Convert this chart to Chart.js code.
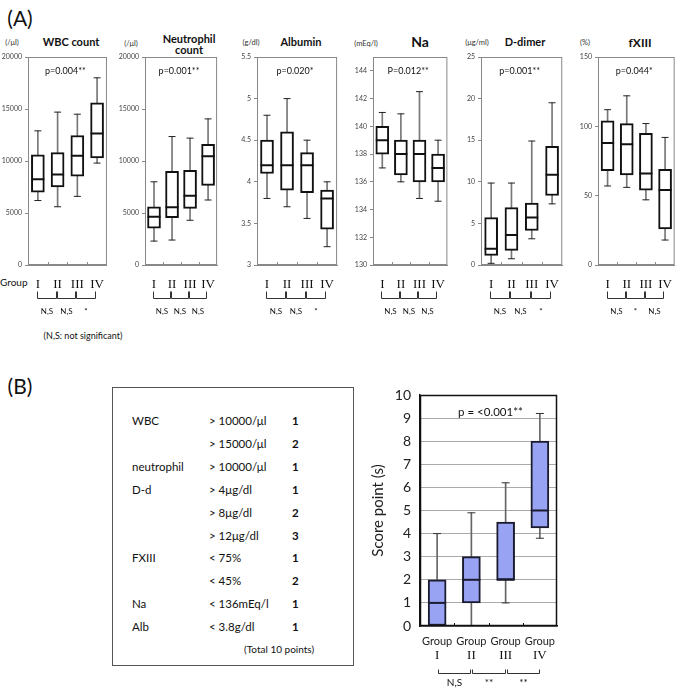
<!DOCTYPE html>
<html>
<head>
<meta charset="utf-8">
<script src="https://cdn.jsdelivr.net/npm/chart.js@4"></script>
<style>
  body { margin: 0; width: 685px; height: 690px; position: relative; background: #fff; overflow: hidden;
         font-family: Lato, "Noto Sans", sans-serif; color: #111; }
  canvas { position: absolute; }
  .t { position: absolute; white-space: nowrap; transform: translate(-50%, -50%); line-height: 1; }
  .l { position: absolute; white-space: nowrap; transform: translateY(-50%); line-height: 1; }
  .b { font-weight: bold; }
  .u { font-size: 7.5px; color: #333; }
  #tbl { position: absolute; left: 112px; top: 387px; width: 240px; height: 277px; border: 1px solid #555; }
</style>
</head>
<body>
<div class="t" style="left:20px;top:17px;font-size:21px">(A)</div>
<div class="t" style="left:20px;top:385px;font-size:21px">(B)</div>

<div class="t b" style="left:71px;top:41px;font-size:11px">WBC count</div>
<div class="t b" style="left:189px;top:38px;font-size:11px">Neutrophil</div>
<div class="t b" style="left:189px;top:49px;font-size:11px">count</div>
<div class="t b" style="left:301px;top:41px;font-size:11px">Albumin</div>
<div class="t b" style="left:420px;top:42px;font-size:14px">Na</div>
<div class="t b" style="left:525px;top:41px;font-size:11px">D-dimer</div>
<div class="t b" style="left:640px;top:43px;font-size:12px">fXIII</div>

<div class="t u" style="left:12px;top:43px">(/μl)</div>
<div class="t u" style="left:131px;top:44px">(/μl)</div>
<div class="t u" style="left:251px;top:43px">(g/dl)</div>
<div class="t u" style="left:366px;top:44px">(mEq/l)</div>
<div class="t u" style="left:477px;top:43px">(μg/ml)</div>
<div class="t u" style="left:585px;top:43px">(%)</div>

<div class="l" style="left:0px;top:282px;font-size:10px">Group</div>
<div class="t" style="left:83px;top:335px;font-size:9px">(N,S: not significant)</div>

<div id="tbl"></div>

<script>
const groups = ['I', 'II', 'III', 'IV'];

// [min, Q1, median, Q3, max] for groups I..IV
const wbcStats = [[6200, 7000, 8250, 10600, 12900], [5600, 7500, 8700, 10800, 14700],
                  [6600, 8550, 10500, 12450, 14500], [9800, 10300, 12650, 15600, 18000]];
const neuStats = [[2300, 3550, 4650, 5600, 8000], [2400, 4550, 5550, 9000, 12350],
                  [4300, 5450, 6650, 9100, 12200], [6250, 7650, 10450, 11600, 14050]];
const albStats = [[3.8, 4.1, 4.2, 4.5, 4.8], [3.7, 3.9, 4.2, 4.6, 5.0],
                  [3.56, 3.87, 4.2, 4.35, 4.5], [3.22, 3.43, 3.8, 3.9, 4.0]];
const naStats = [[137, 138, 139, 140, 141], [136, 136.5, 138, 139, 140.9],
                 [134.8, 136, 138, 139, 142.5], [134.6, 136, 137, 138, 139]];
const ddStats = [[0.2, 1.15, 1.95, 5.7, 9.85], [0.75, 1.75, 3.6, 6.9, 9.85],
                 [3.15, 4.15, 5.7, 7.45, 14.9], [7.35, 8.35, 10.85, 14.25, 19.5]];
const fxStats = [[57, 68, 88, 104, 112], [56, 65, 87, 102, 122],
                 [47, 54, 66, 95, 102], [18, 26, 54, 69, 92]];
const scoreStats = [[0, 0, 1, 2, 4], [0, 1, 2, 3, 4.9], [1, 2, 2, 4.5, 6.2], [3.8, 4.25, 5, 8, 9.2]];

const pValues = ['p=0.004**', 'p=0.001**', 'p=0.020*', 'P=0.012**', 'p=0.001**', 'p=0.044*'];
const sigMarks = [['N,S', 'N,S', '*'], ['N,S', 'N,S', 'N,S'], ['N,S', 'N,S', '*'],
                  ['N,S', 'N,S', 'N,S'], ['N,S', 'N,S', '*'], ['N,S', '*', 'N,S']];
const axisMin = [0, 0, 3, 130, 0, 0];
const axisMax = [20000, 20000, 5.5, 145, 25, 150];
const axisStep = [5000, 5000, 0.5, 2, 5, 50];

const scoreP = 'p = <0.001**';
const scoreSig = ['N,S', '**', '**'];
const scoreTicksMax = 10;

const scoreRows = [
  ['WBC', '> 10000/μl', '1'], ['', '> 15000/μl', '2'], ['neutrophil', '> 10000/μl', '1'],
  ['D-d', '> 4μg/dl', '1'], ['', '> 8μg/dl', '2'], ['', '> 12μg/dl', '3'],
  ['FXIII', '< 75%', '1'], ['', '< 45%', '2'], ['Na', '< 136mEq/l', '1'], ['Alb', '< 3.8g/dl', '1']
];
const scoreTotal = '(Total 10 points)';

const SANS = 'Lato, "Noto Sans", sans-serif';
const SERIF = '"Liberation Serif", "DejaVu Serif", serif';

// table of panel B
const tbl = document.getElementById('tbl');
scoreRows.forEach((row, k) => {
  const y = 33 + 22.9 * k;
  [[19, row[0], ''], [96, row[1], ''], [179, row[2], 'font-weight:bold']].forEach(([x, txt, st]) => {
    const d = document.createElement('div');
    d.className = 'l';
    d.style.cssText = `left:${x}px;top:${y}px;font-size:11.5px;${st}`;
    d.textContent = txt;
    tbl.appendChild(d);
  });
});
const tot = document.createElement('div');
tot.className = 'l';
tot.style.cssText = 'left:131px;top:261px;font-size:10px';
tot.textContent = scoreTotal;
tbl.appendChild(tot);

// frame, inner ticks, p-value, numerals and comparison brackets
const boxDeco = {
  id: 'boxDeco',
  afterDraw(chart, args, o) {
    const { ctx, chartArea: a, scales: { x } } = chart;
    ctx.save();
    ctx.strokeStyle = o.frameColor;
    ctx.lineWidth = o.frameWidth;
    ctx.strokeRect(a.left + 0.5, a.top + 0.5, a.right - a.left - 1, a.bottom - a.top - 1);
    ctx.lineWidth = 1;
    for (let i = 0; i < groups.length - 1; i++) {
      const bx = Math.round((x.getPixelForValue(i) + x.getPixelForValue(i + 1)) / 2) + 0.5;
      ctx.beginPath();
      ctx.moveTo(bx, a.bottom);
      ctx.lineTo(bx, a.bottom - 3);
      ctx.stroke();
    }
    ctx.fillStyle = '#111';
    ctx.textAlign = 'center';
    ctx.textBaseline = 'middle';
    ctx.font = o.pFont;
    ctx.fillText(o.pText, (a.left + a.right) / 2 + o.pDx, a.top + o.pDy);
    if (o.numerals) {
      ctx.font = o.numFont;
      groups.forEach((g, i) => ctx.fillText(g, x.getPixelForValue(i), a.bottom + o.numDy));
    }
    ctx.strokeStyle = '#333';
    ctx.font = o.sigFont;
    o.sig.forEach((s, j) => {
      const x1 = Math.round(x.getPixelForValue(j) + o.bl) + 0.5;
      const x2 = Math.round(x.getPixelForValue(j + 1) + o.br) + 0.5;
      const yb = Math.round(a.bottom + o.by) + 0.5;
      ctx.beginPath();
      ctx.moveTo(x1, yb - o.bh);
      ctx.lineTo(x1, yb);
      ctx.lineTo(x2, yb);
      ctx.lineTo(x2, yb - o.bh);
      ctx.stroke();
      ctx.fillText(s, (x1 + x2) / 2, a.bottom + o.sy);
    });
    ctx.restore();
  }
};

function boxDatasets(stats, st) {
  return [
    { type: 'bar', data: stats.map(s => [s[0], s[4]]), backgroundColor: st.whisker,
      barThickness: 1, grouped: false, order: 4 },
    { type: 'bar', data: stats.map(s => [s[1], s[3]]), backgroundColor: st.fill,
      borderColor: st.edge, borderWidth: st.edgeW, borderSkipped: false,
      barThickness: st.boxW, grouped: false, order: 3 },
    { type: 'line', data: stats.map(s => s[0]), showLine: false, pointStyle: 'line',
      pointRadius: st.capW / 2, pointBorderColor: st.cap, pointBorderWidth: 1, order: 2 },
    { type: 'line', data: stats.map(s => s[4]), showLine: false, pointStyle: 'line',
      pointRadius: st.capW / 2, pointBorderColor: st.cap, pointBorderWidth: 1, order: 2 },
    { type: 'line', data: stats.map(s => s[2]), showLine: false, pointStyle: 'line',
      pointRadius: st.boxW / 2, pointBorderColor: st.edge, pointBorderWidth: st.edgeW, order: 1 }
  ];
}

// panel A: six small box plots
const panelPlots = [[28, 116], [145, 227], [257, 346], [373, 457], [481, 571], [598, 684]];
const panelStats = [wbcStats, neuStats, albStats, naStats, ddStats, fxStats];

panelStats.forEach((stats, i) => {
  const [l, r] = panelPlots[i];
  const cv = document.createElement('canvas');
  cv.width = r - l + 31;
  cv.height = 320;
  cv.style.left = (l - 30) + 'px';
  cv.style.top = '0px';
  document.body.appendChild(cv);
  new Chart(cv, {
    type: 'bar',
    data: {
      labels: groups,
      datasets: boxDatasets(stats, { whisker: '#777', fill: '#fff', edge: '#111', edgeW: 2,
                                     boxW: 13, capW: 7, cap: '#222' })
    },
    options: {
      responsive: false,
      animation: false,
      layout: { padding: { top: 57, right: 1, bottom: 25, left: 0 } },
      scales: {
        x: {
          ticks: { font: { family: SERIF, size: 13 }, color: '#111', padding: 12,
                   maxRotation: 0, minRotation: 0, autoSkip: false },
          grid: { display: false, drawTicks: false },
          border: { color: '#888' },
          afterFit: s => { s.height = 30; }
        },
        y: {
          min: axisMin[i], max: axisMax[i],
          ticks: { stepSize: axisStep[i], includeBounds: false, font: { family: SANS, size: 7 },
                   color: '#444', padding: 3, callback: v => String(v) },
          grid: { drawOnChartArea: false, tickLength: 3, color: '#888' },
          border: { color: '#888' },
          afterFit: s => { s.width = 30; }
        }
      },
      plugins: {
        legend: { display: false },
        tooltip: { enabled: false },
        boxDeco: {
          frameColor: '#888', frameWidth: 1,
          pText: pValues[i], pFont: `9px ${SANS}`, pDx: -2, pDy: 14,
          numerals: false,
          sig: sigMarks[i], sigFont: `8px ${SANS}`,
          bl: -1, br: -2, by: 33, bh: 7, sy: 46
        }
      }
    },
    plugins: [boxDeco]
  });
});

// panel B: score box plot
const sc = document.createElement('canvas');
sc.width = 203;
sc.height = 315;
sc.style.left = '365px';
sc.style.top = '375px';
document.body.appendChild(sc);
new Chart(sc, {
  type: 'bar',
  data: {
    labels: groups.map(() => 'Group'),
    datasets: boxDatasets(scoreStats, { whisker: '#666', fill: '#99a3f3', edge: '#1b1b30', edgeW: 2,
                                        boxW: 18, capW: 8, cap: '#333' })
  },
  options: {
    responsive: false,
    animation: false,
    layout: { padding: { top: 20, right: 5, bottom: 24, left: 0 } },
    scales: {
      x: {
        ticks: { font: { family: SANS, size: 11 }, color: '#222', padding: 9,
                 maxRotation: 0, minRotation: 0, autoSkip: false },
        grid: { display: false, drawTicks: false },
        border: { color: '#111', width: 1.5 },
        afterFit: s => { s.height = 40; }
      },
      y: {
        min: 0, max: scoreTicksMax,
        ticks: { stepSize: 1, font: { family: SANS, size: 14 }, color: '#222', padding: 9 },
        grid: { color: '#aaa', drawTicks: false },
        border: { color: '#111', width: 1.5 },
        title: { display: true, text: 'Score point (s)', font: { family: SANS, size: 15 },
                 color: '#222', padding: { top: 4, bottom: 0 } },
        afterFit: s => { s.width = 55; }
      }
    },
    plugins: {
      legend: { display: false },
      tooltip: { enabled: false },
      boxDeco: {
        frameColor: '#111', frameWidth: 1.5,
        pText: scoreP, pFont: `11.5px ${SANS}`, pDx: 2, pDy: 17,
        numerals: true, numFont: `13px ${SERIF}`, numDy: 30,
        sig: scoreSig, sigFont: `10px ${SANS}`,
        bl: 1, br: -1, by: 47, bh: 4, sy: 57
      }
    }
  },
  plugins: [boxDeco]
});
</script>
</body>
</html>
